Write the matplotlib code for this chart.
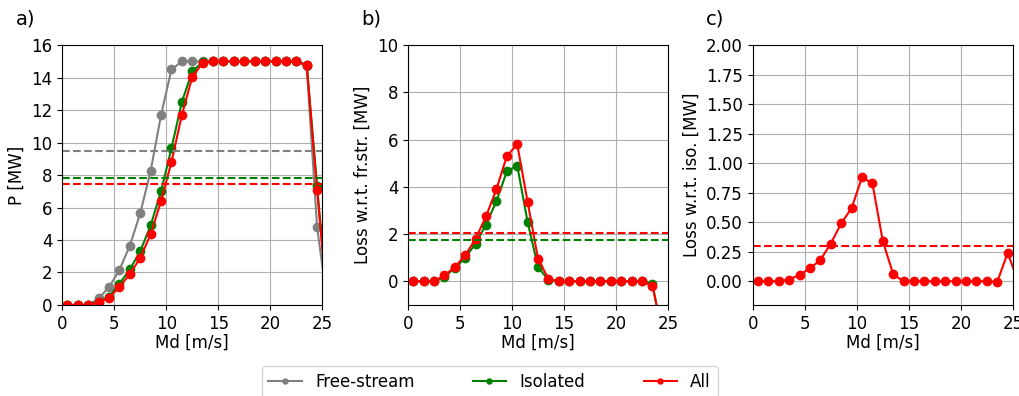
import matplotlib.pyplot as plt
import numpy as np

# wind speed bins [m/s]
ws = np.arange(0.5, 26.0, 1.0)

# a) power [MW]
p_free = [0, 0, 0, 0.4, 1.1, 2.15, 3.65, 5.65, 8.25, 11.7, 14.5, 15.0, 15.0, 15.0, 15.0,
          15.0, 15.0, 15.0, 15.0, 15.0, 15.0, 15.0, 15.0, 14.7, 4.8, 0.0]
p_iso = [0, 0, 0, 0.2, 0.5, 1.3, 2.2, 3.3, 4.9, 7.0, 9.65, 12.5, 14.4, 14.95, 15.0,
         15.0, 15.0, 15.0, 15.0, 15.0, 15.0, 15.0, 15.0, 14.8, 7.3, 0.0]
p_all = [0, 0, 0, 0.15, 0.45, 1.1, 1.9, 2.9, 4.35, 6.4, 8.8, 11.7, 14.05, 14.9, 15.0,
         15.0, 15.0, 15.0, 15.0, 15.0, 15.0, 15.0, 15.0, 14.75, 7.05, 0.0]
p_mean = {'free': 9.5, 'iso': 7.8, 'all': 7.45}

# b) loss w.r.t. free-stream [MW]
loss_fs_iso = [0, 0, 0, 0.2, 0.55, 1.0, 1.6, 2.4, 3.4, 4.65, 4.9, 2.5, 0.6, 0.05, 0,
               0, 0, 0, 0, 0, 0, 0, 0, -0.1, -2.5, 0.0]
loss_fs_all = [0, 0, 0, 0.25, 0.6, 1.1, 1.8, 2.75, 3.9, 5.3, 5.8, 3.35, 0.95, 0.1, 0,
               0, 0, 0, 0, 0, 0, 0, 0, -0.2, -2.25, 0.0]
loss_fs_mean = {'iso': 1.75, 'all': 2.05}

# c) loss w.r.t. isolated [MW]
loss_iso_all = [0, 0, 0, 0.015, 0.055, 0.11, 0.18, 0.32, 0.49, 0.62, 0.88, 0.83, 0.34, 0.06, 0,
                0, 0, 0, 0, 0, 0, 0, 0, -0.005, 0.24, 0.0]
loss_iso_mean = 0.3

plt.rcParams['font.size'] = 12
fig = plt.figure(figsize=(10.2, 3.96), dpi=100)
w, h, b = 0.255, 0.656, 0.23
ax1 = fig.add_axes([0.061, b, w, h])
ax2 = fig.add_axes([0.400, b, w, h])
ax3 = fig.add_axes([0.738, b, w, h])

ms = 6
l1, = ax1.plot(ws, p_free, 'o-', color='grey', ms=ms, label='Free-stream')
l2, = ax1.plot(ws, p_iso, 'o-', color='green', ms=ms, label='Isolated')
l3, = ax1.plot(ws, p_all, 'o-', color='red', ms=ms, label='All')
ax1.axhline(p_mean['free'], color='grey', ls='--')
ax1.axhline(p_mean['iso'], color='green', ls='--')
ax1.axhline(p_mean['all'], color='red', ls='--')
ax1.set_ylim(0, 16)
ax1.set_yticks(np.arange(0, 17, 2))
ax1.set_ylabel('P [MW]')

ax2.plot(ws, loss_fs_iso, 'o-', color='green', ms=ms)
ax2.plot(ws, loss_fs_all, 'o-', color='red', ms=ms)
ax2.axhline(loss_fs_mean['iso'], color='green', ls='--')
ax2.axhline(loss_fs_mean['all'], color='red', ls='--')
ax2.set_ylim(-1, 10)
ax2.set_ylabel('Loss w.r.t. fr.str. [MW]')

ax3.plot(ws, loss_iso_all, 'o-', color='red', ms=ms)
ax3.axhline(loss_iso_mean, color='red', ls='--')
ax3.set_ylim(-0.2, 2.0)
ax3.set_yticks(np.arange(0, 2.01, 0.25))
ax3.set_ylabel('Loss w.r.t. iso. [MW]')

for ax, lab in zip([ax1, ax2, ax3], ['a)', 'b)', 'c)']):
    ax.set_xlim(0, 25)
    ax.set_xticks([0, 5, 10, 15, 20, 25])
    ax.set_xlabel('Md [m/s]', labelpad=1)
    ax.grid(True, color='#b0b0b0', lw=0.8)
    ax.text(-0.18, 1.08, lab, transform=ax.transAxes, fontsize=14)

fig.legend(handles=[l1, l2, l3], loc='center', bbox_to_anchor=(0.48, 0.035),
           ncol=3, markerscale=0.6, columnspacing=3.5, handlelength=2)

fig.savefig('out.png', dpi=100)
